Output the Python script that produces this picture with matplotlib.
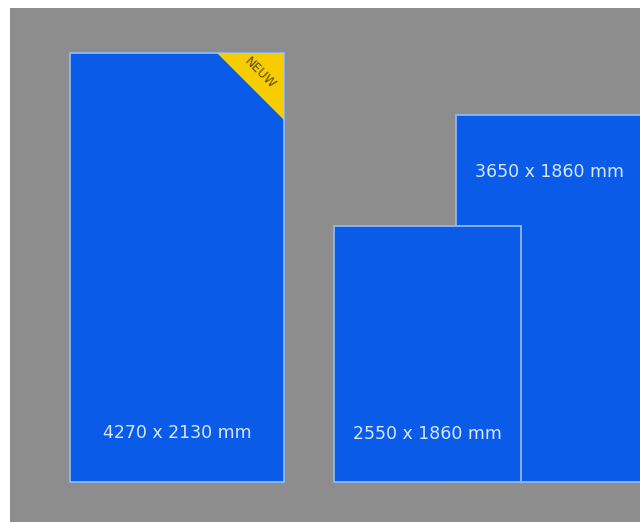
import matplotlib
matplotlib.use("Agg")
import matplotlib.pyplot as plt
from matplotlib.patches import Rectangle, Polygon

# Data (mm)
labels = ["4270 x 2130 mm", "3650 x 1860 mm", "2550 x 1860 mm"]
heights = [4270, 3650, 2550]
widths = [2130, 1860, 1860]
badge_text = "NEUW"

# layout (mm)
lefts = [0, 3841, 2630]
zorders = [2, 2, 3]
label_y = [488, 3085, 478]

BLUE = "#0a5ce8"
EDGE = "#8fb8f2"
GRAY = "#8d8d8d"
YELLOW = "#f7cd00"

fig = plt.figure(figsize=(6.4, 5.22), dpi=100, facecolor="white")
ax = fig.add_axes([10/640, 0, 630/640, 514/522])
ax.set_facecolor(GRAY)
s = 0.1005
ax.set_xlim((10-70)/s, (640-70)/s)
ax.set_ylim(-40/s, (482-8)/s)
ax.axis("off")
ax.add_patch(Rectangle((0, 0), 1, 1, transform=ax.transAxes, color=GRAY, zorder=0))

for lab, h, w, l, z, ly in zip(labels, heights, widths, lefts, zorders, label_y):
    ax.add_patch(Rectangle((l, 0), w, h, facecolor=BLUE, edgecolor=EDGE,
                           linewidth=1.3, zorder=z))
    ax.text(l + w/2, ly, lab, color="#d8e6ff", fontsize=12.5, ha="center",
            va="center", zorder=z+1, family="DejaVu Sans")

# badge triangle on first rectangle
leg = 667
w0, h0 = widths[0], heights[0]
tri = Polygon([(w0 - leg, h0), (w0, h0), (w0, h0 - leg)], closed=True,
              facecolor=YELLOW, edgecolor="none", zorder=4)
ax.add_patch(tri)
ax.text(w0 - leg/3 - 15, h0 - leg/3 + 15, badge_text, rotation=-45, color="#5a4a10",
        fontsize=9, ha="center", va="center", zorder=5, family="DejaVu Sans")

fig.savefig("out.png", dpi=100, facecolor="white")
